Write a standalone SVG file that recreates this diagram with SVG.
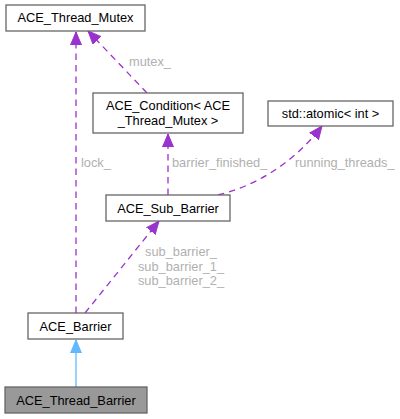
<svg xmlns="http://www.w3.org/2000/svg" width="400" height="419" viewBox="0 0 400 419">
<style>
.node rect{fill:#ffffff;stroke:#666666;stroke-width:1.3}
.node text{font-family:"Liberation Sans",Arial,sans-serif;font-size:12.8px;fill:#000000;text-anchor:middle}
.edge{fill:none;stroke:#9a32cd;stroke-width:1.3;stroke-dasharray:6.5,5}
.inh{fill:none;stroke:#63b8ff;stroke-width:1.3}
.lbl{font-family:"Liberation Sans",Arial,sans-serif;font-size:12.8px;fill:#b0b0b0}
</style>
<defs>
<marker id="ap" markerUnits="userSpaceOnUse" markerWidth="14" markerHeight="12" refX="13" refY="5.5" orient="auto" viewBox="0 0 14 11">
<path d="M0,0 L13,5.5 L0,11 z" fill="#9a32cd" stroke="#9a32cd"/>
</marker>
<marker id="ab" markerUnits="userSpaceOnUse" markerWidth="14" markerHeight="12" refX="13" refY="5.5" orient="auto" viewBox="0 0 14 11">
<path d="M0,0 L13,5.5 L0,11 z" fill="#63b8ff" stroke="#63b8ff"/>
</marker>
</defs>
<g id="edges">
<path class="inh" d="M76,387 L76,340" marker-end="url(#ab)"/>
<path class="edge" d="M76,313 L76,32" marker-end="url(#ap)"/>
<path class="edge" d="M147,93 L88,31" marker-end="url(#ap)"/>
<path class="edge" d="M168,195 L168,134" marker-end="url(#ap)"/>
<path class="edge" d="M218,195 C248,188 290,168 322,126" marker-end="url(#ap)"/>
<path class="edge" d="M85,313 L159,221" marker-end="url(#ap)"/>
<text class="lbl" x="81" y="167">lock_</text>
<text class="lbl" x="129" y="66">mutex_</text>
<text class="lbl" x="172" y="167">barrier_finished_</text>
<text class="lbl" x="295" y="167">running_threads_</text>
<text class="lbl" x="181" y="256" text-anchor="middle">sub_barrier_</text>
<text class="lbl" x="181" y="271" text-anchor="middle">sub_barrier_1_</text>
<text class="lbl" x="181" y="285" text-anchor="middle">sub_barrier_2_</text>
</g>
<g id="n_ace_thread_mutex" class="node">
<rect x="6" y="5" width="139" height="26"/>
<text x="75.5" y="22">ACE_Thread_Mutex</text>
</g>
<g id="n_ace_condition" class="node">
<rect x="93" y="93" width="150" height="40"/>
<text x="168" y="109.5">ACE_Condition&lt; ACE</text>
<text x="168" y="124.5">_Thread_Mutex &gt;</text>
</g>
<g id="n_std_atomic" class="node">
<rect x="268" y="101" width="125" height="25"/>
<text x="330.5" y="118">std::atomic&lt; int &gt;</text>
</g>
<g id="n_ace_sub_barrier" class="node">
<rect x="106" y="195" width="124" height="26"/>
<text x="168" y="212.5">ACE_Sub_Barrier</text>
</g>
<g id="n_ace_barrier" class="node">
<rect x="28" y="313" width="95" height="26"/>
<text x="75.5" y="330.5">ACE_Barrier</text>
</g>
<g id="n_ace_thread_barrier" class="node">
<rect x="5" y="387" width="142" height="26" style="fill:#999999"/>
<text x="76" y="404.5">ACE_Thread_Barrier</text>
</g>
</svg>
